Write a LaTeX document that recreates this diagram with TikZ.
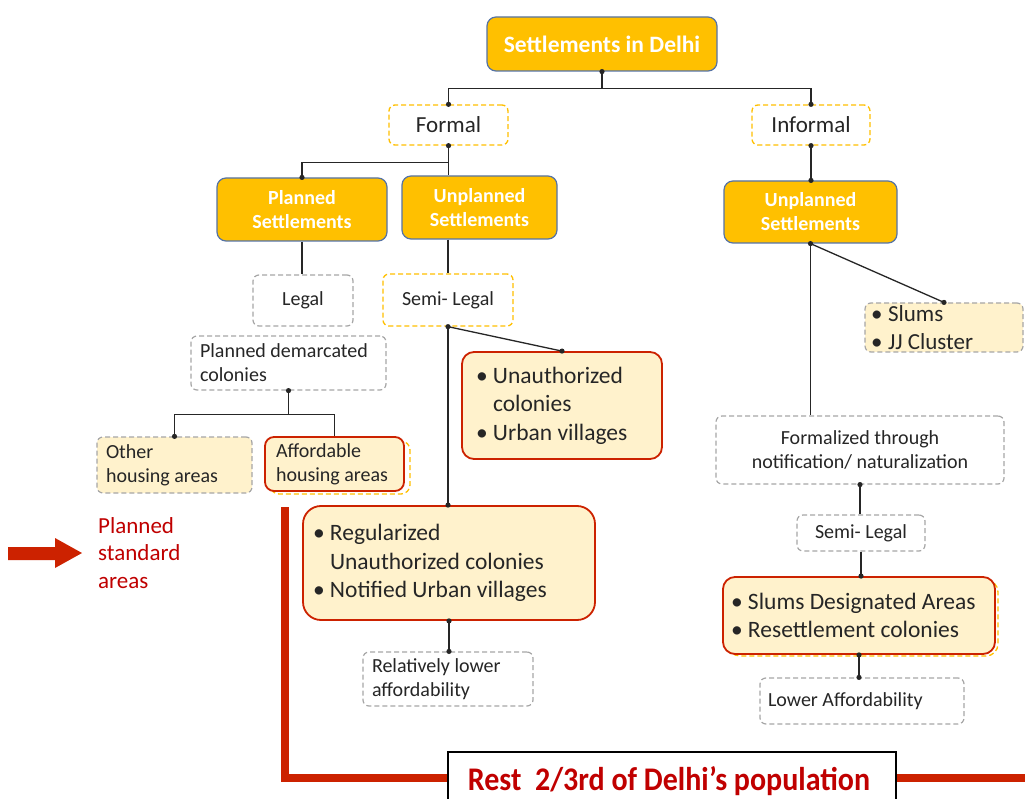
\documentclass[tikz,border=0pt]{standalone}
\usepackage{fontspec}
\setmainfont{Carlito}
\usetikzlibrary{calc}
\definecolor{gold}{HTML}{FFC000}
\definecolor{goldedge}{RGB}{85,115,165}
\definecolor{cream}{HTML}{FFF2CC}
\definecolor{redline}{RGB}{204,34,0}
\definecolor{redtext}{RGB}{192,0,0}
\definecolor{grayd}{RGB}{166,166,166}
\newcommand\bul[1]{\makebox[17pt][l]{•}#1}
\newcommand\cont[1]{\hspace*{17pt}#1}
\newcommand\jdot[1]{\fill[black!85] (#1) circle (2.6pt);}
\tikzset{
  goldbox/.style={draw=goldedge, line width=1.2pt, fill=gold, rounded corners=9pt, text=white,
    font=\fontsize{20}{24}\selectfont\bfseries, align=center, inner sep=0pt},
  obox/.style={draw=gold, line width=1.3pt, dash pattern=on 5pt off 3pt, rounded corners=6pt,
    font=\fontsize{20}{24}\selectfont, align=center, inner sep=0pt, text=black!85},
  gbox/.style={draw=grayd, line width=1.2pt, dash pattern=on 5pt off 3pt, rounded corners=6pt,
    font=\fontsize{20}{24}\selectfont, align=center, inner sep=0pt, text=black!85},
  rbox/.style={draw=redline, line width=1.8pt, fill=cream, rounded corners=12pt,
    font=\fontsize{23.5}{28.5}\selectfont, align=flush left, inner ysep=0pt, text=black!85},
  conn/.style={draw=black!85, line width=1.3pt},
  thick red/.style={draw=redline, line width=8pt},
}
\begin{document}
\begin{tikzpicture}[x=1pt,y=-1pt]
\useasboundingbox (0,0) rectangle (1025,799);
\clip (0,0) rectangle (1025,799);
\fill[white] (0,0) rectangle (1025,799);

% orange dashed outlines behind red boxes
\draw[draw=gold, line width=1.3pt, dash pattern=on 5pt off 3pt, rounded corners=9pt] (270,441) rectangle (410,494);
\draw[draw=gold, line width=1.3pt, dash pattern=on 5pt off 3pt, rounded corners=12pt] (728,580) rectangle (998,656);

% nodes
\node[goldbox, minimum width=230pt, minimum height=54pt, font=\fontsize{23.5}{28}\selectfont\bfseries] (top) at (602,44) {Settlements in Delhi};
\node[obox, minimum width=119pt, minimum height=40pt, font=\fontsize{23}{27}\selectfont] (formal) at (448.5,125) {Formal};
\node[obox, minimum width=118pt, minimum height=40pt, font=\fontsize{23}{27}\selectfont] (informal) at (811,125) {Informal};

\node[goldbox, minimum width=170pt, minimum height=63pt] (planned) at (302,209.5) {Planned\\Settlements};
\node[goldbox, minimum width=155pt, minimum height=63pt] (unplF) at (479.5,207.5) {Unplanned\\Settlements};
\node[goldbox, minimum width=173pt, minimum height=62pt] (unplI) at (810.5,212) {Unplanned\\Settlements};

\node[gbox, minimum width=100pt, minimum height=51pt] (legal) at (303,300.5) {Legal};
\node[obox, minimum width=130pt, minimum height=52pt] (semiF) at (448,300) {Semi- Legal};

\node[gbox, minimum width=195pt, minimum height=54pt, align=flush left, text width=177pt, inner xsep=9pt] (pdc) at (288.5,363) {Planned demarcated\\colonies};
\node[gbox, fill=cream, minimum width=155pt, minimum height=56pt, align=flush left, text width=137pt, inner xsep=9pt] (other) at (174.5,465) {Other\\housing areas};
\node[rbox, minimum width=139pt, minimum height=54pt, rounded corners=9pt, font=\fontsize{20}{24}\selectfont, text width=117pt, inner xsep=11pt] (afford) at (334.5,464) {Affordable\\housing areas};

\node[rbox, minimum width=200pt, minimum height=107pt, text width=172pt, inner xsep=14pt] (unauth) at (562,405.5) {\bul{Unauthorized}\\\cont{colonies}\\\bul{Urban villages}};
\node[rbox, minimum width=292pt, minimum height=114pt, rounded corners=18pt, text width=272pt, inner xsep=10pt] (regul) at (449,563) {\bul{Regularized}\\\cont{Unauthorized colonies}\\\bul{Notified Urban villages}};
\node[gbox, minimum width=170pt, minimum height=54pt, align=flush left, text width=152pt, inner xsep=9pt] (rel) at (448,679) {Relatively lower\\affordability};

\node[gbox, fill=cream, minimum width=158pt, minimum height=49pt, align=flush left, text width=146pt, inner xsep=6pt, font=\fontsize{23}{27.5}\selectfont] (slums) at (944,327.5) {\bul{Slums}\\\bul{JJ Cluster}};
\node[gbox, minimum width=288pt, minimum height=68pt] (formalized) at (860,450) {Formalized through\\notification/ naturalization};
\node[gbox, minimum width=128pt, minimum height=36pt] (semiI) at (861,533) {Semi- Legal};
\node[rbox, minimum width=272pt, minimum height=77pt, text width=256pt, inner xsep=8pt] (slumsD) at (859,615.5) {\bul{Slums Designated Areas}\\\bul{Resettlement colonies}};
\node[gbox, minimum width=204pt, minimum height=46pt, align=flush left, text width=188pt, inner xsep=8pt] (lower) at (862,701) {Lower Affordability};

\node[draw=black, line width=1.5pt, fill=white, minimum width=448pt, minimum height=70pt, inner sep=0pt] (rest) at (672,787) {};
\node[text=redtext, font=\fontsize{30}{36}\selectfont\bfseries, inner sep=0pt, anchor=base] (resttext) at (669,790) {\scalebox{1}[1.1]{Rest\ \ 2/3rd of Delhi’s population}};

\node[anchor=west, align=flush left, inner sep=0pt, text=redtext, font=\fontsize{23}{27.5}\selectfont] (psa) at (98,553) {Planned\\standard\\areas};
\fill[redline] (8,547) -- (55,547) -- (55,538) -- (82,553) -- (55,568) -- (55,560) -- (8,560) -- cycle;

% connectors
\coordinate (hub) at ($(top.south)+(0,17)$);
\draw[draw=black!85, line width=2.6pt] (top.south) -- (hub);
\draw[conn] (hub) -| (formal.north);
\draw[conn] (hub) -| (informal.north);
\jdot{top.south} \jdot{formal.north} \jdot{informal.north}

\coordinate (fhub) at ($(formal.south)+(0,17)$);
\draw[conn] (formal.south) -- (fhub) -| (planned.north);
\draw[conn] (fhub) -- (fhub |- unplF.north);
\jdot{formal.south} \jdot{planned.north}

\draw[conn] (planned.south) -- (planned.south |- legal.north);
\draw[conn] (semiF.north |- unplF.south) -- (semiF.north);

\coordinate (phub) at ($(pdc.south)+(0,24)$);
\draw[conn] (pdc.south) -- (phub) -| (other.north);
\draw[conn] (phub) -| (afford.north);
\jdot{pdc.south} \jdot{other.north}

\draw[conn] (semiF.south) -- (unauth.north);
\draw[conn] (semiF.south) -- (semiF.south |- regul.north);
\draw[conn] (regul.south) -- (regul.south |- rel.north);
\jdot{semiF.south} \jdot{unauth.north} \jdot{semiF.south |- regul.north}
\jdot{regul.south} \jdot{regul.south |- rel.north}

\draw[conn] (informal.south) -- (informal.south |- unplI.north);
\draw[conn] (unplI.south) -- (slums.north);
\draw[conn] (unplI.south) -- (unplI.south |- formalized.north);
\draw[conn] (formalized.south) -- (formalized.south |- semiI.north);
\draw[conn] (semiI.south) -- (semiI.south |- slumsD.north);
\draw[conn] (slumsD.south) -- (slumsD.south |- lower.north);
\jdot{informal.south} \jdot{informal.south |- unplI.north}
\jdot{unplI.south} \jdot{slums.north}
\jdot{formalized.south} \jdot{semiI.south |- slumsD.north}
\jdot{slumsD.south} \jdot{slumsD.south |- lower.north}

% red thick line
\coordinate (rstart) at (285,507);
\coordinate (rend) at (1025,778);
\draw[thick red] (rstart) |- (rest.west |- rend);
\draw[thick red] (rest.east |- rend) -- (rend);
\end{tikzpicture}
\end{document}
